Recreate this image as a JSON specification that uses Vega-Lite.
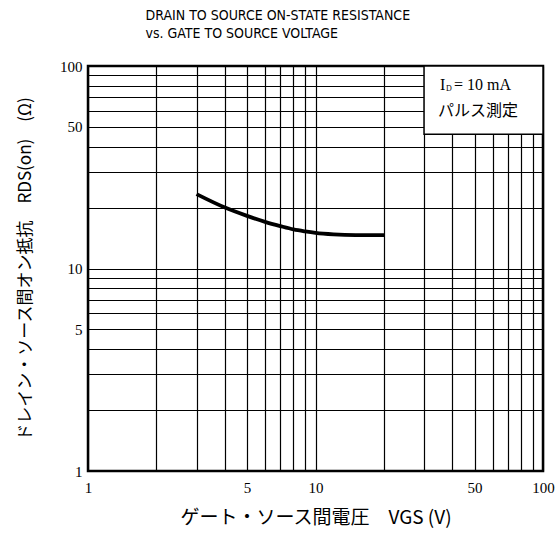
{
  "$schema": "https://vega.github.io/schema/vega-lite/v6.json",
  "width": 455,
  "height": 405,
  "autosize": "none",
  "padding": {"left": 88, "top": 66, "right": 14, "bottom": 77},
  "background": "white",
  "title": {
    "text": ["DRAIN TO SOURCE ON-STATE RESISTANCE", "vs. GATE TO SOURCE VOLTAGE"],
    "anchor": "middle",
    "align": "left",
    "dx": -170,
    "offset": 18,
    "font": "Liberation Sans Narrow, DejaVu Sans Condensed, Liberation Sans",
    "fontSize": 14,
    "fontWeight": "normal",
    "lineHeight": 18,
    "color": "black"
  },
  "config": {
    "view": {"stroke": "black", "strokeWidth": 2.5},
    "axis": {
      "grid": true,
      "gridColor": "black",
      "gridOpacity": 1,
      "gridWidth": 1.2,
      "ticks": false,
      "domain": false,
      "labelFont": "Liberation Serif",
      "labelFontSize": 15,
      "labelColor": "black",
      "titleFont": "Noto Sans CJK JP",
      "titleFontWeight": "normal",
      "titleColor": "black"
    }
  },
  "layer": [
    {
      "data": {"values": [{"x1": 30, "x2": 100, "y1": 46, "y2": 100}]},
      "mark": {"type": "rect", "fill": "white", "stroke": "black", "strokeWidth": 1.5},
      "encoding": {
        "x": {
          "field": "x1", "type": "quantitative",
          "scale": {"type": "log", "domain": [1, 100], "nice": false},
          "axis": {
            "values": [1, 2, 3, 4, 5, 6, 7, 8, 9, 10, 20, 30, 40, 50, 60, 70, 80, 90, 100],
            "labelExpr": "indexof([1,5,10,50,100], datum.value) >= 0 ? datum.label : ''",
            "labelPadding": 9,
            "labelFlush": false,
            "labelOverlap": false,
            "title": "ゲート・ソース間電圧　VGS  (V)",
            "titleFontSize": 19,
            "titlePadding": 13
          }
        },
        "x2": {"field": "x2"},
        "y": {
          "field": "y1", "type": "quantitative",
          "scale": {"type": "log", "domain": [1, 100], "nice": false},
          "axis": {
            "values": [1, 2, 3, 4, 5, 6, 7, 8, 9, 10, 20, 30, 40, 50, 60, 70, 80, 90, 100],
            "labelExpr": "indexof([1,5,10,50,100], datum.value) >= 0 ? datum.label : ''",
            "labelPadding": 6,
            "labelFlush": false,
            "labelOverlap": false,
            "title": "ドレイン・ソース間オン抵抗　RDS(on)　(Ω)",
            "titleFontSize": 17,
            "titlePadding": 25
          }
        },
        "y2": {"field": "y2"}
      }
    },
    {
      "data": {"values": [
        {"vgs": 3, "rds": 23.3},
        {"vgs": 4, "rds": 20.0},
        {"vgs": 5, "rds": 18.2},
        {"vgs": 6, "rds": 17.0},
        {"vgs": 7, "rds": 16.2},
        {"vgs": 8, "rds": 15.6},
        {"vgs": 9, "rds": 15.25},
        {"vgs": 10, "rds": 15.0},
        {"vgs": 12, "rds": 14.75},
        {"vgs": 15, "rds": 14.62},
        {"vgs": 20, "rds": 14.6}
      ]},
      "mark": {"type": "line", "color": "black", "strokeWidth": 3.8, "interpolate": "monotone"},
      "encoding": {
        "x": {"field": "vgs", "type": "quantitative"},
        "y": {"field": "rds", "type": "quantitative"}
      }
    },
    {
      "data": {"values": [{"x": 51.8, "y": 80.5, "t1": "I", "t2": "D", "t3": "= 10 mA"}]},
      "layer": [
        {
          "mark": {"type": "text", "align": "left", "baseline": "middle", "dx": -38, "font": "Liberation Serif", "fontSize": 16, "color": "black"},
          "encoding": {"x": {"field": "x", "type": "quantitative"}, "y": {"field": "y", "type": "quantitative"}, "text": {"field": "t1"}}
        },
        {
          "mark": {"type": "text", "align": "left", "baseline": "middle", "dx": -32, "dy": 4, "font": "Liberation Serif", "fontSize": 8, "color": "black"},
          "encoding": {"x": {"field": "x", "type": "quantitative"}, "y": {"field": "y", "type": "quantitative"}, "text": {"field": "t2"}}
        },
        {
          "mark": {"type": "text", "align": "left", "baseline": "middle", "dx": -24, "font": "Liberation Serif", "fontSize": 16, "color": "black"},
          "encoding": {"x": {"field": "x", "type": "quantitative"}, "y": {"field": "y", "type": "quantitative"}, "text": {"field": "t3"}}
        }
      ]
    },
    {
      "data": {"values": [{"x": 51.8, "y": 60, "t": "パルス測定"}]},
      "mark": {"type": "text", "align": "center", "baseline": "middle", "font": "Noto Sans CJK JP", "fontSize": 16, "color": "black"},
      "encoding": {"x": {"field": "x", "type": "quantitative"}, "y": {"field": "y", "type": "quantitative"}, "text": {"field": "t"}}
    }
  ]
}
